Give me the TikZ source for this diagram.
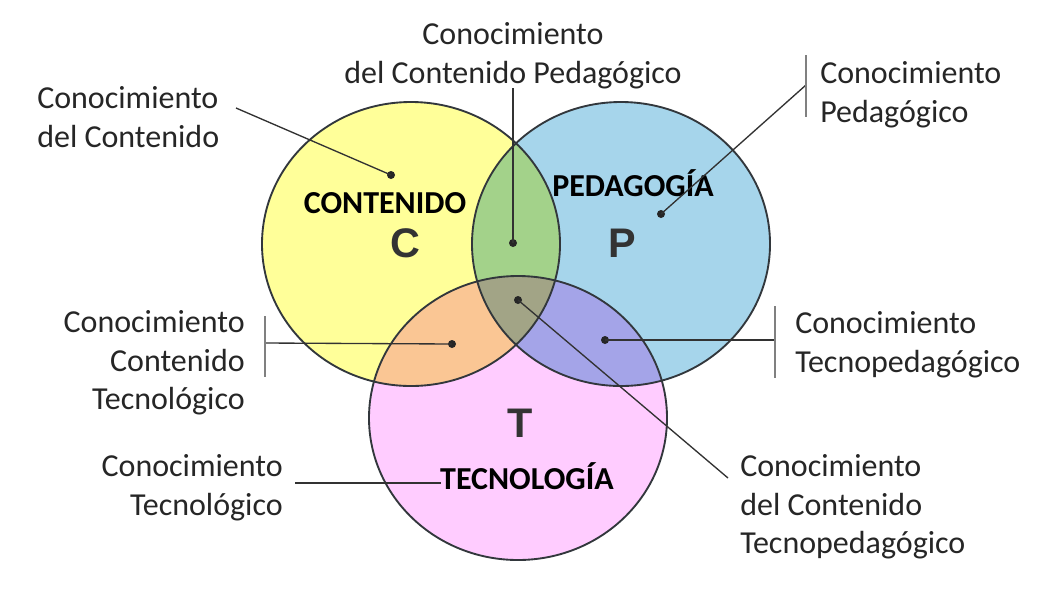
\documentclass[tikz,border=0pt]{standalone}
\usepackage{fontspec}
\setmainfont{Carlito}
\newfontfamily\arialfont{Liberation Sans}
\usetikzlibrary{positioning}

\definecolor{cyellow}{RGB}{255,255,153}
\definecolor{cblue}{RGB}{166,213,235}
\definecolor{cpink}{RGB}{255,204,255}
\definecolor{cgreen}{RGB}{163,210,138}
\definecolor{corange}{RGB}{250,198,148}
\definecolor{cpurple}{RGB}{164,164,232}
\definecolor{colive}{RGB}{162,164,134}
\definecolor{ringgray}{RGB}{50,55,60}
\definecolor{leadgray}{RGB}{50,50,50}
\definecolor{bargray}{RGB}{128,128,128}

\tikzset{
  lbl/.style={font=\fontsize{24}{29}\selectfont,inner sep=0pt,text=black!85},
  areaname/.style={font=\fontsize{24}{29}\selectfont\bfseries,inner sep=0pt},
  bigletter/.style={font=\fontsize{31}{32}\selectfont\arialfont\bfseries,inner sep=0pt,text=black!80},
  kdot/.style={circle,fill=black!85,inner sep=0pt,minimum size=6pt},
  leader/.style={draw=leadgray,line width=1pt},
  bracket/.style={draw=bargray,line width=1.4pt},
  ring/.style={draw=ringgray,line width=1.4pt}
}
\def\rx{111.75pt}
\def\ry{106.5pt}

\begin{document}
\begin{tikzpicture}[x=0.75pt,y=-0.75pt]
\useasboundingbox[fill=white] (0,0) rectangle (1060,608);

\coordinate (C) at (411,244);
\coordinate (P) at (621,244);
\coordinate (T) at (518,418);

\fill[cyellow] (C) ellipse [x radius=\rx, y radius=\ry];
\fill[cblue] (P) ellipse [x radius=\rx, y radius=\ry];
\fill[cpink] (T) ellipse [x radius=\rx, y radius=\ry];
\begin{scope}
  \clip (C) ellipse [x radius=\rx, y radius=\ry];
  \fill[cgreen] (P) ellipse [x radius=\rx, y radius=\ry];
  \fill[corange] (T) ellipse [x radius=\rx, y radius=\ry];
  \clip (P) ellipse [x radius=\rx, y radius=\ry];
  \fill[colive] (T) ellipse [x radius=\rx, y radius=\ry];
\end{scope}
\begin{scope}
  \clip (P) ellipse [x radius=\rx, y radius=\ry];
  \clip (T) ellipse [x radius=\rx, y radius=\ry];
  \fill[cpurple] (T) ellipse [x radius=\rx, y radius=\ry];
  \clip (C) ellipse [x radius=\rx, y radius=\ry];
  \fill[colive] (T) ellipse [x radius=\rx, y radius=\ry];
\end{scope}
\draw[ring] (C) ellipse [x radius=\rx, y radius=\ry];
\draw[ring] (P) ellipse [x radius=\rx, y radius=\ry];
\draw[ring] (T) ellipse [x radius=\rx, y radius=\ry];

\node[areaname] (Contenido) at (385,203) {CONTENIDO};
\node[areaname] (Pedagogia) at (633,183) {PEDAGOGÍA};
\node[areaname] (Tecnologia) at (527,476) {TECNOLOGÍA};
\node[bigletter] (Cletter) at (405,243) {C};
\node[bigletter] (Pletter) at (622,243) {P};
\node[bigletter] (Tletter) at (520,423) {T};

\node[kdot] (CKdot) at (391,175) {};
\node[kdot] (PCKdot) at (513,243) {};
\node[kdot] (PKdot) at (661,214) {};
\node[kdot] (TPACKdot) at (518,300) {};
\node[kdot] (TCKdot) at (452,344) {};
\node[kdot] (TPKdot) at (605,340) {};

\node[lbl,align=left,anchor=west] (CK) at (37,117) {Conocimiento\\del Contenido};
\node[lbl,align=center] (PCK) at (513,56) {Conocimiento\\del Contenido Pedagógico};
\node[lbl,align=left,anchor=west] (PK) at (820,95) {Conocimiento\\Pedagógico};
\node[lbl,align=right,anchor=east] (TCK) at (245,363) {Conocimiento\\Contenido\\Tecnológico};
\node[lbl,align=left,anchor=west] (TPK) at (795,345) {Conocimiento\\Tecnopedagógico};
\node[lbl,align=right,anchor=east] (TK) at (283,488) {Conocimiento\\Tecnológico};
\node[lbl,align=left,anchor=west] (TPACK) at (740,507) {Conocimiento\\del Contenido\\Tecnopedagógico};

\coordinate (CKend) at (236,108);
\coordinate (PCKend) at (513,88);
\coordinate (PKend) at (806,85);
\coordinate (TCKend) at (265,343);
\coordinate (TPKend) at (775,340);
\coordinate (TKstart) at (295,483);
\coordinate (TKend) at (441,483);
\coordinate (TPACKend) at (728,478);

\draw[leader] (CKdot.center) -- (CKend);
\draw[leader] (PCKdot.center) -- (PCKend);
\draw[leader] (PKdot.center) -- (PKend);
\draw[leader] (TCKdot.center) -- (TCKend);
\draw[leader] (TPKdot.center) -- (TPKend);
\draw[leader] (TKstart) -- (TKend);
\draw[leader] (TPACKdot.center) -- (TPACKend);

\draw[bracket] (806,55) -- (806,117);
\draw[bracket] (265,316) -- (265,377);
\draw[bracket] (775,306) -- (775,378);
\end{tikzpicture}
\end{document}
